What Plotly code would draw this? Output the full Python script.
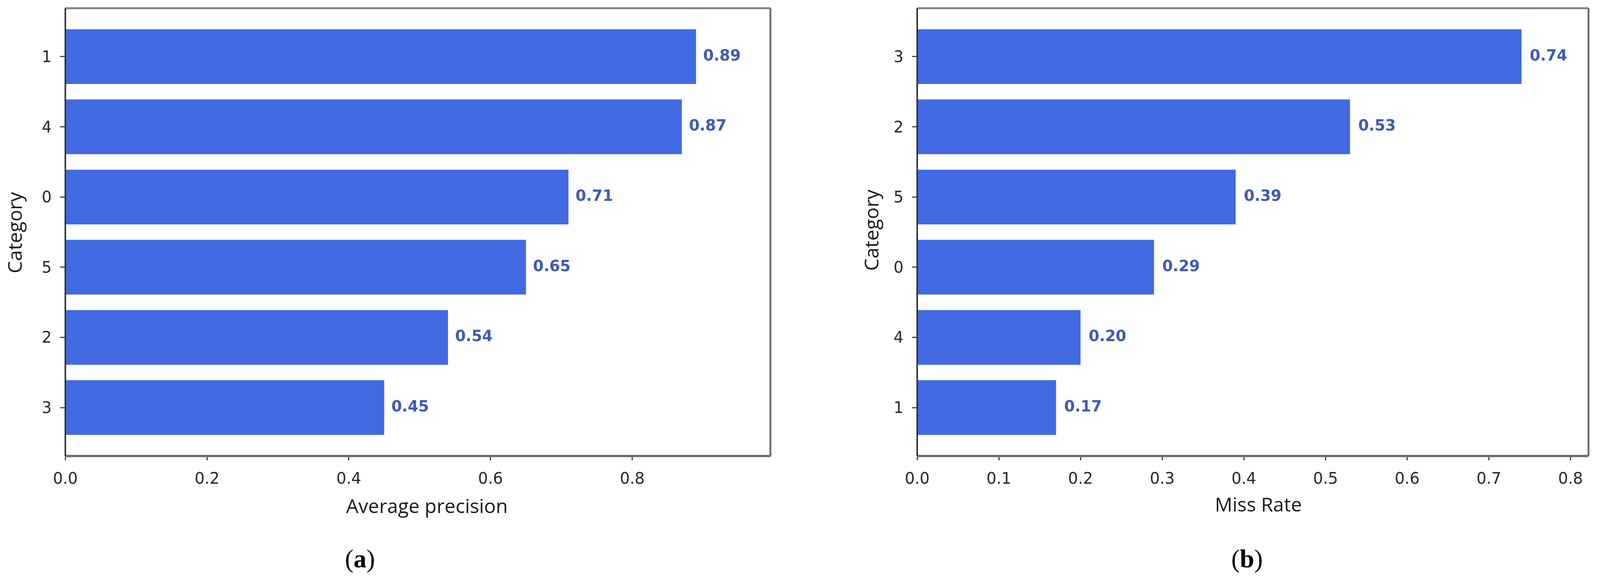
import plotly.graph_objects as go

# ---- data ----
ap_categories = ["1", "4", "0", "5", "2", "3"]          # top -> bottom
ap_values = [0.89, 0.87, 0.71, 0.65, 0.54, 0.45]
mr_categories = ["3", "2", "5", "0", "4", "1"]          # top -> bottom
mr_values = [0.74, 0.53, 0.39, 0.29, 0.20, 0.17]
ap_xticks = [0.0, 0.2, 0.4, 0.6, 0.8]
mr_xticks = [0.0, 0.1, 0.2, 0.3, 0.4, 0.5, 0.6, 0.7, 0.8]
x_titles = ["Average precision", "Miss Rate"]
y_title = "Category"
panel_labels = ["(<b>a</b>)", "(<b>b</b>)"]

BAR = "#4169E1"
LBL = "#3d5bb8"
TICK_FONT = dict(family="DejaVu Sans", size=40, color="#2a2a2a")
TITLE_FONT = dict(family="Open Sans", size=50, color="#1a1a1a")

W, H = 4164, 1492

fig = go.Figure()

panels = [
    dict(cats=ap_categories, vals=ap_values, ticks=ap_xticks, xa="x", ya="y",
         dom=[170 / W, 2005 / W], xmax=0.995, fmt=".1f"),
    dict(cats=mr_categories, vals=mr_values, ticks=mr_xticks, xa="x2", ya="y2",
         dom=[2387 / W, 4134 / W], xmax=0.822, fmt=".1f"),
]

ydom = [1 - 1167 / H, 1 - 21 / H]

for i, p in enumerate(panels):
    cats_bt = list(reversed(p["cats"]))
    vals_bt = list(reversed(p["vals"]))
    fig.add_trace(go.Bar(
        x=vals_bt, y=cats_bt, orientation="h", width=0.78,
        marker=dict(color=BAR, line=dict(width=0)),
        xaxis=p["xa"], yaxis=p["ya"], showlegend=False, hoverinfo="skip",
    ))
    fig.add_trace(go.Scatter(
        x=[v + 0.01 for v in vals_bt], y=cats_bt, mode="text",
        text=[f"{v:.2f}" for v in vals_bt], textposition="middle right",
        textfont=dict(family="DejaVu Sans", size=39, color=LBL, weight="bold"),
        xaxis=p["xa"], yaxis=p["ya"], showlegend=False, hoverinfo="skip",
        cliponaxis=False,
    ))
    sfx = "" if i == 0 else "2"
    fig.update_layout(**{
        "xaxis" + sfx: dict(
            domain=p["dom"], range=[0, p["xmax"]], tickvals=p["ticks"],
            ticktext=[f"{t:{p['fmt']}}" for t in p["ticks"]],
            ticks="outside", ticklen=10, tickwidth=3, tickcolor="#444",
            tickfont=TICK_FONT, showgrid=False, zeroline=False,
            showline=False, anchor="y" + sfx, fixedrange=True,
            ticklabelstandoff=12, automargin=False,
        ),
        "yaxis" + sfx: dict(
            domain=ydom, type="category", categoryarray=cats_bt,
            range=[-0.69, 5.69], ticks="outside", ticklen=12, tickwidth=3,
            tickcolor="#444", tickfont=TICK_FONT, showgrid=False,
            zeroline=False, showline=False, anchor="x" + sfx, fixedrange=True,
            ticklabelstandoff=14, automargin=False,
        ),
    })
    xr = "x domain" if i == 0 else "x2 domain"
    yr = "y domain" if i == 0 else "y2 domain"
    # frame
    fig.add_shape(type="line", xref=xr, yref=yr, x0=0, x1=1, y0=1, y1=1,
                  line=dict(color="#808080", width=5))
    fig.add_shape(type="line", xref=xr, yref=yr, x0=1, x1=1, y0=0, y1=1,
                  line=dict(color="#707070", width=5))
    fig.add_shape(type="line", xref=xr, yref=yr, x0=0, x1=1, y0=0, y1=0,
                  line=dict(color="#707070", width=6))
    fig.add_shape(type="line", xref=xr, yref=yr, x0=0, x1=0, y0=0, y1=1,
                  line=dict(color="#333333", width=4))

annotations = [
    dict(text=x_titles[0], x=1111 / W, y=1 - 1294 / H),
    dict(text=x_titles[1], x=3275 / W, y=1 - 1290 / H),
    dict(text=y_title, x=38 / W, y=1 - 595 / H, textangle=-90),
    dict(text=y_title, x=2267 / W, y=1 - 588 / H, textangle=-90),
]
for a in annotations:
    fig.add_annotation(xref="paper", yref="paper", showarrow=False,
                       xanchor="center", yanchor="middle", font=TITLE_FONT, **a)
for lab, xc in zip(panel_labels, [937 / W, 3245 / W]):
    fig.add_annotation(text=lab, xref="paper", yref="paper", x=xc, y=1 - 1430 / H,
                       showarrow=False, xanchor="center", yanchor="middle",
                       font=dict(family="Liberation Serif", size=66, color="#000"))

fig.update_layout(
    autosize=True,
    margin=dict(l=0, r=0, t=0, b=0, pad=0, autoexpand=False),
    paper_bgcolor="white", plot_bgcolor="white", bargap=0.2,
)

fig.write_html(
    "out.html",
    default_width="100vw",
    default_height="100vh",
    config={"displayModeBar": False, "responsive": True},
    post_script=(
        "document.documentElement.style.margin='0';"
        "document.documentElement.style.overflow='hidden';"
        "document.body.style.margin='0';"
        "document.body.style.overflow='hidden';"
        "window.dispatchEvent(new Event('resize'));"
    ),
)
